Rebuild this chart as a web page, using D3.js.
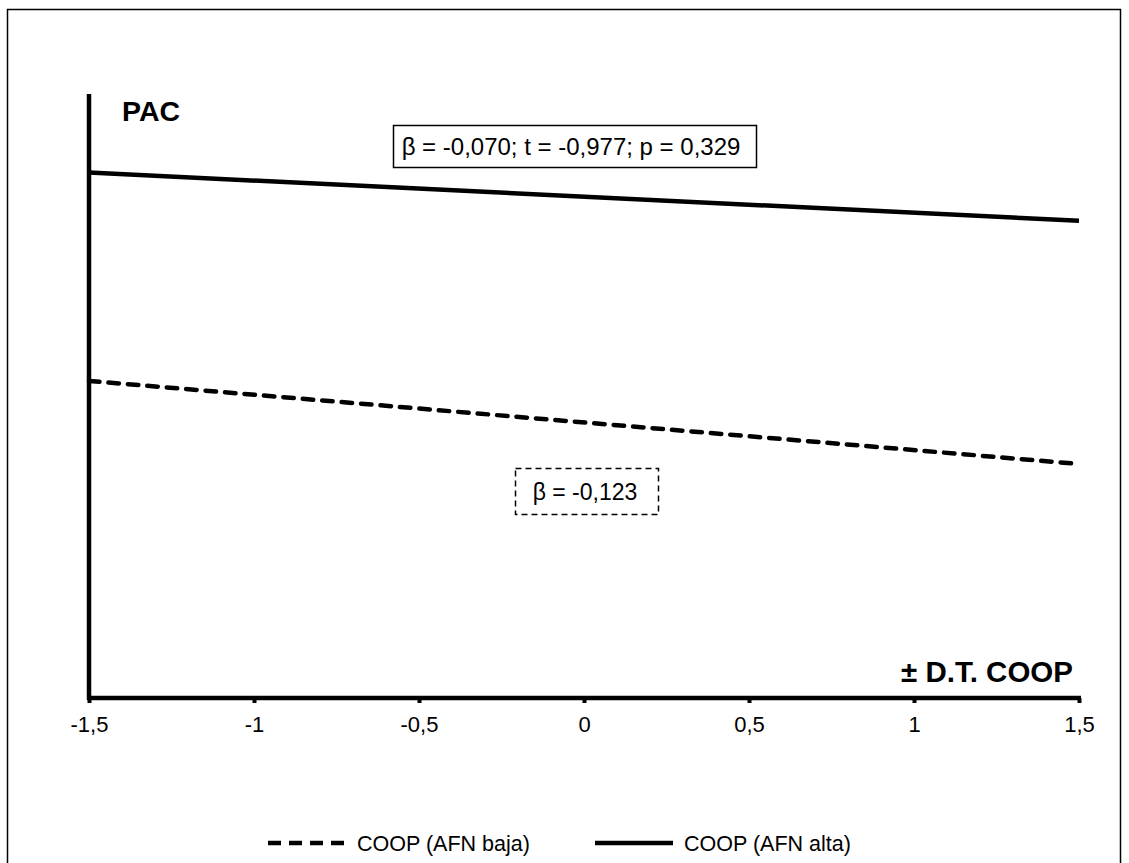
<!DOCTYPE html>
<html><head><meta charset="utf-8">
<script src="https://cdn.jsdelivr.net/npm/d3@7"></script>
<style>body{margin:0;background:#fff}svg{display:block}text{font-family:"Liberation Sans",Arial,sans-serif;fill:#000}</style>
</head><body>
<script>
const xTicks = [-1.5, -1, -0.5, 0, 0.5, 1, 1.5];
const xTickLabels = ["-1,5", "-1", "-0,5", "0", "0,5", "1", "1,5"];
const seriesNames = ["COOP (AFN baja)", "COOP (AFN alta)"];
const afnBaja = [{x: -1.5, y: 3.10}, {x: 1.5, y: 2.55}];
const afnAlta = [{x: -1.5, y: 4.48}, {x: 1.5, y: 4.16}];
const annotAlta = "β = -0,070; t = -0,977; p = 0,329";
const annotBaja = "β = -0,123";
const yLabel = "PAC";
const xLabel = "± D.T. COOP";

const W = 1129, H = 863;
const svg = d3.select("body").append("svg").attr("width", W).attr("height", H);
svg.append("rect").attr("width", W).attr("height", H).attr("fill", "#fff");
// frame
svg.append("rect").attr("x", 7.5).attr("y", 9.5).attr("width", 1113).attr("height", 880)
  .attr("fill", "none").attr("stroke", "#000").attr("stroke-width", 1.5);

const x = d3.scaleLinear().domain([-1.5, 1.5]).range([89, 1079]);
const y = d3.scaleLinear().domain([1, 5]).range([698, 94]);

// x axis
const xAxis = d3.axisBottom(x).tickValues(xTicks).tickFormat((d, i) => xTickLabels[i]).tickSize(5).tickPadding(13);
const gx = svg.append("g").attr("transform", `translate(0,${y(1)})`).call(xAxis)
  .attr("font-size", null).attr("font-family", null);
gx.select(".domain").attr("stroke", "#000").attr("stroke-width", 4.5).attr("d", `M${x(-1.5)-2},0H${x(1.5)+2}`);
gx.selectAll(".tick line").attr("stroke", "#000").attr("stroke-width", 4);
gx.selectAll(".tick text").style("font-size", "22px").style("font-family", "'Liberation Sans', Arial, sans-serif").attr("fill", "#000");

// y axis line
svg.append("line").attr("x1", x(-1.5)).attr("x2", x(-1.5)).attr("y1", y(5)).attr("y2", y(1) + 2)
  .attr("stroke", "#000").attr("stroke-width", 4.5);

svg.append("text").attr("x", 122).attr("y", 121).style("font-size", "28.5px").attr("font-weight", "bold").text(yLabel);
svg.append("text").attr("x", 1073).attr("y", 682).attr("text-anchor", "end").style("font-size", "29.5px").attr("font-weight", "bold").text(xLabel);

const line = d3.line().x(d => x(d.x)).y(d => y(d.y));
svg.append("path").datum(afnAlta).attr("d", line).attr("fill", "none").attr("stroke", "#000").attr("stroke-width", 4.5);
svg.append("path").datum(afnBaja).attr("d", line).attr("fill", "none").attr("stroke", "#000").attr("stroke-width", 4.5)
  .attr("stroke-dasharray", "10.5,9").attr("stroke-linecap", "round");

// annotations
svg.append("rect").attr("x", 393.5).attr("y", 125.5).attr("width", 363).attr("height", 42)
  .attr("fill", "#fff").attr("stroke", "#000").attr("stroke-width", 1.5);
svg.append("text").attr("x", 571).attr("y", 155).attr("text-anchor", "middle").style("font-size", "24px").text(annotAlta);
svg.append("rect").attr("x", 515.5).attr("y", 468.5).attr("width", 143).attr("height", 46)
  .attr("fill", "#fff").attr("stroke", "#000").attr("stroke-width", 1.5).attr("stroke-dasharray", "6,4");
svg.append("text").attr("x", 585).attr("y", 500).attr("text-anchor", "middle").style("font-size", "23px").text(annotBaja);

// legend
const legend = [
  {name: seriesNames[0], dash: "13,8", x0: 268},
  {name: seriesNames[1], dash: null, x0: 595}
];
legend.forEach(l => {
  const ln = svg.append("line").attr("x1", l.x0).attr("x2", l.x0 + 78).attr("y1", 843).attr("y2", 843)
    .attr("stroke", "#000").attr("stroke-width", 4.5);
  if (l.dash) ln.attr("stroke-dasharray", l.dash);
  svg.append("text").attr("x", l.x0 + 89).attr("y", 851).style("font-size", "21.5px").text(l.name);
});
</script>
</body></html>
